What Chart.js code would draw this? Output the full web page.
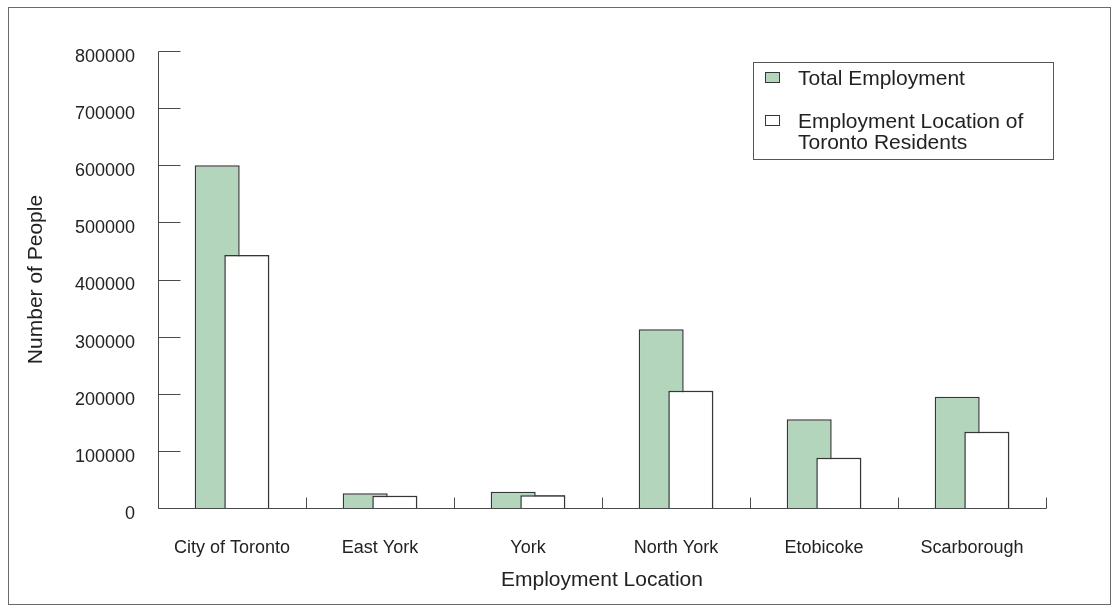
<!DOCTYPE html>
<html>
<head>
<meta charset="utf-8">
<title>Employment Location</title>
<script src="https://cdn.jsdelivr.net/npm/chart.js@4/dist/chart.umd.min.js"></script>
<style>
  html, body { margin: 0; background: #fff; }
  canvas { display: block; }
</style>
</head>
<body>
<canvas id="chart" width="1113" height="610"></canvas>
<script>
// Employment by location vs. where Toronto residents work.
const LOCATIONS = ['City of Toronto', 'East York', 'York', 'North York', 'Etobicoke', 'Scarborough'];
const TOTAL_EMPLOYMENT = [600000, 25700, 28500, 312800, 155300, 194900];
const RESIDENT_EMPLOYMENT = [443000, 21500, 22200, 205300, 88100, 133600];
const Y_TICKS = [0, 100000, 200000, 300000, 400000, 500000, 600000, 700000, 800000];
const LEGEND_LINES = [['Total Employment'], ['Employment Location of', 'Toronto Residents']];

const GREEN = '#b2d5bc';
const EDGE = '#363636';
const AXIS = '#4a4a4a';
const FONT = '"Liberation Sans", Arial, Helvetica, sans-serif';

Chart.defaults.font.family = FONT;
Chart.defaults.color = '#222';

// outer frame of the figure
const frame = {
  id: 'frame',
  beforeDraw(chart) {
    const ctx = chart.ctx;
    ctx.save();
    ctx.fillStyle = '#fff';
    ctx.fillRect(0, 0, chart.width, chart.height);
    ctx.strokeStyle = '#6a6a6a';
    ctx.lineWidth = 1;
    ctx.strokeRect(8.5, 7.5, 1102, 597);
    ctx.restore();
  },
};

// white bars sit on top of the green ones; axes with inward ticks
const axes = {
  id: 'axes',
  afterDatasetsDraw(chart) {
    const ctx = chart.ctx;
    chart.getDatasetMeta(1).data.forEach((el) => el.draw(ctx));

    const { left, right, bottom } = chart.chartArea;
    const xs = chart.scales.x, ys = chart.scales.y;
    const xl = Math.round(left) + 0.5;
    const yb = Math.round(bottom) + 0.5;
    ctx.save();
    ctx.strokeStyle = AXIS;
    ctx.lineWidth = 1;
    ctx.beginPath();
    ctx.moveTo(xl, Math.round(ys.getPixelForValue(Y_TICKS[Y_TICKS.length - 1])) + 0.5);
    ctx.lineTo(xl, yb);
    ctx.lineTo(Math.round(right) + 0.5, yb);
    Y_TICKS.forEach((v) => {
      const y = Math.round(ys.getPixelForValue(v)) + 0.5;
      ctx.moveTo(xl, y);
      ctx.lineTo(xl + 22, y);
    });
    const half = (right - left) / LOCATIONS.length / 2;
    LOCATIONS.forEach((_, i) => {
      const x = Math.round(xs.getPixelForValue(i) + half) + 0.5;
      ctx.moveTo(x, yb);
      ctx.lineTo(x, yb - 11);
    });
    ctx.stroke();
    ctx.restore();
  },
};

// boxed legend in the upper right
const boxLegend = {
  id: 'boxLegend',
  afterDraw(chart) {
    const ctx = chart.ctx;
    const sets = chart.data.datasets;
    ctx.save();
    ctx.strokeStyle = '#555';
    ctx.lineWidth = 1;
    ctx.strokeRect(753.5, 62.5, 300, 97);
    ctx.font = '21px ' + FONT;
    ctx.fillStyle = '#222';
    ctx.textBaseline = 'alphabetic';
    let y = 85;
    LEGEND_LINES.forEach((lines, i) => {
      ctx.fillStyle = sets[i].backgroundColor;
      ctx.fillRect(765.5, y - 12.5, 14, 10);
      ctx.strokeStyle = EDGE;
      ctx.strokeRect(765.5, y - 12.5, 14, 10);
      ctx.fillStyle = '#222';
      lines.forEach((t, k) => ctx.fillText(t, 798, y + k * 21));
      y += 43;
    });
    ctx.restore();
  },
};

new Chart(document.getElementById('chart'), {
  type: 'bar',
  data: {
    labels: LOCATIONS,
    datasets: [
      {
        label: 'Total Employment',
        data: TOTAL_EMPLOYMENT,
        backgroundColor: GREEN,
        borderColor: EDGE,
        borderWidth: 1.5,
      },
      {
        label: 'Employment Location of Toronto Residents',
        data: RESIDENT_EMPLOYMENT,
        backgroundColor: '#ffffff',
        borderColor: EDGE,
        borderWidth: 1.5,
      },
    ],
  },
  options: {
    responsive: false,
    devicePixelRatio: 1,
    animation: false,
    categoryPercentage: 0.4,
    barPercentage: 1.52,
    layout: { padding: { top: 51, right: 67, left: 0, bottom: 0 } },
    plugins: { legend: { display: false }, tooltip: { enabled: false } },
    scales: {
      x: {
        grid: { display: false },
        border: { display: false },
        ticks: { font: { size: 18 }, padding: 21, color: '#222' },
        title: {
          display: true, text: 'Employment Location', color: '#222',
          font: { size: 21 }, padding: { top: 0, bottom: 17 },
        },
        afterFit: (s) => { s.height = 102; },
      },
      y: {
        min: 0,
        max: 800000,
        grid: { display: false },
        border: { display: false },
        afterBuildTicks: (s) => { s.ticks = Y_TICKS.map((v) => ({ value: v })); },
        ticks: {
          font: { size: 18 }, padding: 15, labelOffset: 6, color: '#222',
          callback: (v) => String(v),
        },
        title: {
          display: true, text: 'Number of People', color: '#222',
          font: { size: 21 }, padding: { top: 24, bottom: 0 },
        },
        afterFit: (s) => { s.width = 158; },
      },
    },
  },
  plugins: [frame, axes, boxLegend],
});
</script>
</body>
</html>
